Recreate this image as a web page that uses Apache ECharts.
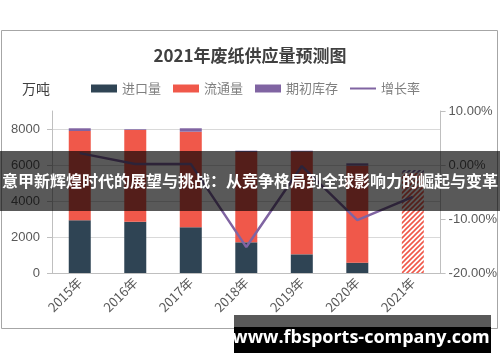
<!DOCTYPE html>
<html><head><meta charset="utf-8">
<script src="https://cdn.jsdelivr.net/npm/echarts@6/dist/echarts.min.js"></script>
<style>html,body{margin:0;padding:0;background:#fff}#c{width:500px;height:362px}</style>
</head><body><div id="c"></div>
<script>
const years = ['2015年','2016年','2017年','2018年','2019年','2020年','2021年'];
const importVol = [2930, 2850, 2540, 1705, 1037, 574, 0];
const circulation = [4960, 5094, 5310, 5020, 5707, 5390, 5572];
const inventory = [150, 40, 190, 70, 50, 130, 150];
const growthRate = [2.2, 0.2, 0.2, -15.2, -0.2, -10.2, -5.9];
const forecastIndex = 6;
const seriesNames = ['进口量','流通量','期初库存','增长率'];

function hatch(color){
  const s = 5;
  const c = document.createElement('canvas'); c.width = s; c.height = s;
  const g = c.getContext('2d');
  g.fillStyle = '#fff'; g.fillRect(0,0,s,s);
  g.strokeStyle = color; g.lineWidth = 1.6; g.beginPath();
  g.moveTo(-1,s+1); g.lineTo(s+1,-1);
  g.moveTo(-1,1); g.lineTo(1,-1);
  g.moveTo(s-1,s+1); g.lineTo(s+1,s-1);
  g.stroke();
  return c;
}
const C_IMP = '#2f4454', C_CIR = '#f0584a', C_INV = '#8064a2', C_LINE = '#8064a2';
function styled(arr, color){
  return arr.map((v,i)=> i===forecastIndex ? {value:v, itemStyle:{color:{image:hatch(color), repeat:'repeat'}}} : v);
}
const chart = echarts.init(document.getElementById('c'), null, {renderer:'canvas'});
const FONT = '"Noto Sans CJK SC", sans-serif';
const lineIcon = 'path://M0,0L0.01,0M0,3L28,3L28,5.2L0,5.2ZM28,8L28.01,8';
chart.setOption({
  animation:false,
  backgroundColor:'#fff',
  title:{text:'2021年废纸供应量预测图', left:'center', top:42,
    textStyle:{fontSize:17, fontWeight:'bold', color:'#404040', fontFamily:FONT}},
  legend:{left:86, top:77, itemWidth:26, itemHeight:8, itemGap:12,
    textStyle:{fontSize:13, color:'#7f7f7f', fontFamily:FONT},
    data:[{name:seriesNames[0], icon:'rect'},{name:seriesNames[1], icon:'rect'},{name:seriesNames[2], icon:'rect'},{name:seriesNames[3], icon:lineIcon}]},
  grid:{left:52, right:55, top:111, bottom:89},
  xAxis:{type:'category', data:years,
    axisLine:{lineStyle:{color:'#bfbfbf'}},
    axisTick:{alignWithLabel:true, length:5, lineStyle:{color:'#bfbfbf'}},
    axisLabel:{rotate:45, color:'#595959', fontSize:13, margin:7, fontFamily:FONT}},
  yAxis:[
    {type:'value', min:0, max:9000, interval:2000,
     axisLine:{show:true, lineStyle:{color:'#bfbfbf'}},
     axisTick:{show:true, length:5, lineStyle:{color:'#bfbfbf'}},
     axisLabel:{color:'#595959', fontSize:13, margin:12, showMaxLabel:false, fontFamily:'"Liberation Sans", sans-serif',
       formatter:v=>String(v)},
     splitLine:{show:true, showMaxLine:false, lineStyle:{color:'#d9d9d9'}}},
    {type:'value', min:-20, max:10, interval:10, position:'right',
     axisLine:{show:true, lineStyle:{color:'#bfbfbf'}},
     axisTick:{show:true, length:5, lineStyle:{color:'#bfbfbf'}},
     axisLabel:{color:'#595959', fontSize:13, margin:8, fontFamily:'"Liberation Sans", sans-serif',
       formatter:v=>v.toFixed(2)+'%'},
     splitLine:{show:false}}
  ],
  series:[
    {name:seriesNames[0], type:'bar', stack:'s', barWidth:22, data:importVol, itemStyle:{color:C_IMP}},
    {name:seriesNames[1], type:'bar', stack:'s', barWidth:22, data:styled(circulation, C_CIR), itemStyle:{color:C_CIR}},
    {name:seriesNames[2], type:'bar', stack:'s', barWidth:22, data:styled(inventory, C_INV), itemStyle:{color:C_INV}},
    {name:seriesNames[3], type:'line', yAxisIndex:1, data:growthRate, symbol:'none', showSymbol:false, z:5,
     lineStyle:{color:C_LINE, width:2.5}, itemStyle:{color:C_LINE}}
  ],
  graphic:[
    {type:'rect', shape:{x:1.5, y:30.5, width:496, height:298}, style:{fill:null, stroke:'#a6a6a6', lineWidth:1}, z:1},
    {type:'text', x:22, y:89, style:{text:'万吨', fontSize:14, fill:'#404040', fontFamily:FONT, verticalAlign:'middle'}},
    {type:'rect', shape:{x:0, y:151, width:500, height:60}, style:{fill:'rgba(0,0,0,0.65)'}, z:100},
    {type:'text', x:250, y:181, z:101, style:{text:'意甲新辉煌时代的展望与挑战：从竞争格局到全球影响力的崛起与变革', fontSize:16, fontWeight:'bold', fill:'#fff', fontFamily:FONT, align:'center', verticalAlign:'middle'}},
    {type:'rect', shape:{x:234, y:315, width:257, height:12}, style:{fill:'rgba(0,0,0,0.65)'}, z:100},
    {type:'rect', shape:{x:234, y:327, width:257, height:26}, style:{fill:'#000'}, z:100},
    {type:'text', x:361, y:338, z:101, style:{text:'www.fbsports-company.com', fontSize:18, fontWeight:'bold', fill:'#fff', fontFamily:'"Open Sans", sans-serif', align:'center', verticalAlign:'middle'}}
  ]
});
</script></body></html>
